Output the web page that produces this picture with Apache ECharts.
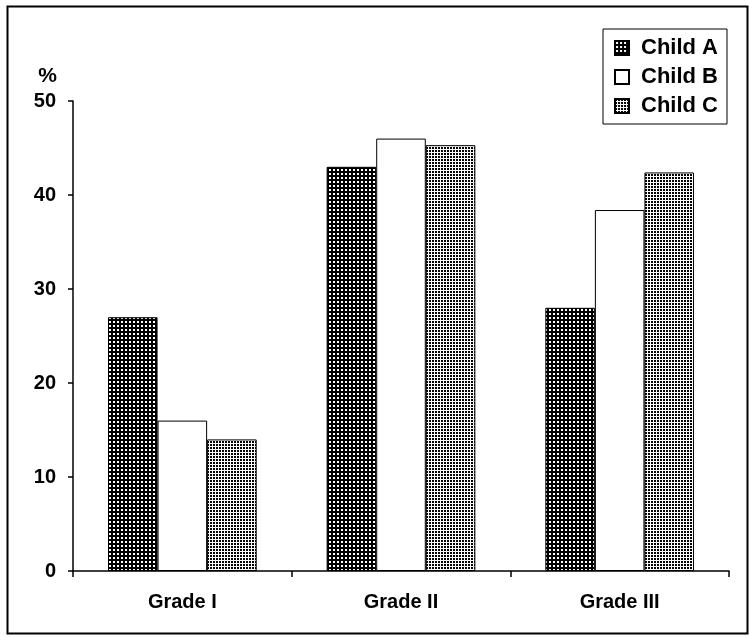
<!DOCTYPE html>
<html>
<head>
<meta charset="utf-8">
<script src="https://cdn.jsdelivr.net/npm/echarts@6/dist/echarts.min.js"></script>
<style>html,body{margin:0;padding:0;background:#fff}#c{width:750px;height:637px}</style>
</head>
<body>
<div id="c"></div>
<script>
var categories = ['Grade I', 'Grade II', 'Grade III'];
var seriesNames = ['Child A', 'Child B', 'Child C'];
var childA = [27, 43, 28];
var childB = [16, 46, 38.4];
var childC = [14, 45.3, 42.4];
var yTicks = [0, 10, 20, 30, 40, 50];

function makePattern(bg, fg, tw, th, dots) {
  var c = document.createElement('canvas');
  c.width = tw; c.height = th;
  var g = c.getContext('2d');
  g.fillStyle = bg; g.fillRect(0, 0, tw, th);
  g.fillStyle = fg;
  dots.forEach(function (d) { g.fillRect(d[0], d[1], d[2], d[3]); });
  return c;
}
var patA = makePattern('#000', '#fff', 4, 4, [[1, 1, 2, 2]]);
var patC = makePattern('#fff', '#000', 3, 3, [[0, 0, 2, 2]]);

var font = 'Liberation Sans, Arial, sans-serif';
var chart = echarts.init(document.getElementById('c'), null, {renderer: 'canvas'});
var style = {borderColor: '#000', borderWidth: 1};
chart.setOption({
  animation: false,
  backgroundColor: '#fff',
  grid: {left: 73, right: 21, top: 101, bottom: 66},
  legend: {
    orient: 'vertical', right: 23, top: 29,
    borderColor: '#000', borderWidth: 1, backgroundColor: '#fff',
    padding: [8, 9, 7, 11], itemGap: 7, itemWidth: 14, itemHeight: 14,
    textStyle: {fontFamily: font, fontWeight: 'bold', fontSize: 22, color: '#000', padding: [0, 0, 0, 7]},
    data: seriesNames.map(function (n) { return {name: n, icon: 'rect'}; })
  },
  xAxis: {
    type: 'category', data: categories,
    axisLine: {lineStyle: {color: '#000', width: 1.5}},
    axisTick: {show: true, length: 6, lineStyle: {color: '#000', width: 1.5}},
    axisLabel: {color: '#000', fontFamily: font, fontWeight: 'bold', fontSize: 20, margin: 21}
  },
  yAxis: {
    type: 'value', min: 0, max: 50, interval: 10,
    name: '%', nameLocation: 'end', nameGap: 14,
    nameTextStyle: {color: '#000', fontFamily: font, fontWeight: 'bold', fontSize: 21, align: 'right', padding: [0, 16, 0, 0]},
    axisLine: {show: true, lineStyle: {color: '#000', width: 1.5}},
    axisTick: {show: true, length: 5, lineStyle: {color: '#000', width: 1.5}},
    splitLine: {show: false},
    axisLabel: {color: '#000', fontFamily: font, fontWeight: 'bold', fontSize: 20, margin: 17,
      formatter: function (v) { return yTicks.indexOf(v) >= 0 ? String(v) : ''; }}
  },
  series: [
    {name: seriesNames[0], type: 'bar', data: childA, barGap: '0%', barCategoryGap: '32%',
      itemStyle: Object.assign({color: {image: patA, repeat: 'repeat'}}, style)},
    {name: seriesNames[1], type: 'bar', data: childB,
      itemStyle: Object.assign({color: '#fff'}, style)},
    {name: seriesNames[2], type: 'bar', data: childC,
      itemStyle: Object.assign({color: {image: patC, repeat: 'repeat'}}, style)}
  ],
  graphic: [{
    type: 'rect', left: 5, top: 4, z: 100, silent: true,
    shape: {width: 740, height: 627},
    style: {fill: null, stroke: '#000', lineWidth: 2}
  }]
});
</script>
</body>
</html>
